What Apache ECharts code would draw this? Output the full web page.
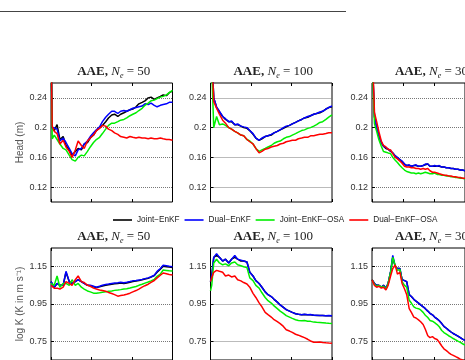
<!DOCTYPE html>
<html>
<head>
<meta charset="utf-8">
<title>AAE</title>
<script src="https://cdn.jsdelivr.net/npm/echarts@6.0.0/dist/echarts.min.js"></script>
<style>
  html, body { margin: 0; padding: 0; background: #fff; overflow: hidden; }
  #chart { width: 465px; height: 360px; }
</style>
</head>
<body>
<div id="chart"></div>
<script>
// assimilation steps, same x for every panel
var steps = [0, 3, 8, 15, 22, 30, 37,
  45, 52, 60, 67, 75, 82, 90,
  97, 105, 112, 120, 127, 135, 142,
  150, 157, 165, 172, 180, 187, 195,
  202, 210, 217, 225, 232, 240, 247,
  255, 262, 270, 277, 285, 292, 300];

var seriesNames = ['Joint\u2212EnKF', 'Dual\u2212EnKF', 'Joint\u2212EnKF\u2212OSA', 'Dual\u2212EnKF\u2212OSA'];
var ensembleSizes = [50, 100, 300];
var headTicks = [0.12, 0.16, 0.2, 0.24];
var logKTicks = [0.75, 0.95, 1.15];

// ---- Head (m), Ne = 50
var headJoint50 = [0.32, 0.200, 0.196, 0.204, 0.184, 0.188, 0.176,
  0.170, 0.163, 0.168, 0.172, 0.170, 0.178, 0.180,
  0.186, 0.190, 0.196, 0.200, 0.203, 0.208, 0.213,
  0.217, 0.218, 0.215, 0.218, 0.220, 0.222, 0.224,
  0.225, 0.228, 0.232, 0.234, 0.236, 0.240, 0.241,
  0.238, 0.240, 0.242, 0.244, 0.243, 0.247, 0.249];
var headDual50 = [0.32, 0.198, 0.200, 0.198, 0.182, 0.186, 0.180,
  0.172, 0.165, 0.162, 0.170, 0.172, 0.178, 0.182,
  0.188, 0.193, 0.197, 0.201, 0.208, 0.214, 0.218,
  0.222, 0.222, 0.219, 0.222, 0.223, 0.222, 0.224,
  0.226, 0.227, 0.228, 0.229, 0.232, 0.231, 0.233,
  0.230, 0.228, 0.230, 0.231, 0.232, 0.234, 0.234];
var headJointOsa50 = [0.32, 0.185, 0.190, 0.184, 0.178, 0.172, 0.170,
  0.163, 0.157, 0.155, 0.160, 0.163, 0.162, 0.168,
  0.174, 0.180, 0.184, 0.187, 0.192, 0.198, 0.203,
  0.206, 0.206, 0.208, 0.210, 0.211, 0.213, 0.216,
  0.218, 0.220, 0.223, 0.226, 0.230, 0.233, 0.236,
  0.237, 0.239, 0.241, 0.242, 0.244, 0.247, 0.250];
var headDualOsa50 = [0.32, 0.202, 0.195, 0.192, 0.178, 0.183, 0.174,
  0.168, 0.160, 0.170, 0.182, 0.176, 0.172, 0.182,
  0.186, 0.190, 0.196, 0.199, 0.203, 0.202, 0.198,
  0.196, 0.193, 0.191, 0.188, 0.187, 0.186, 0.188,
  0.187, 0.186, 0.187, 0.186, 0.186, 0.185, 0.186,
  0.185, 0.185, 0.186, 0.185, 0.184, 0.184, 0.183];

// ---- Head (m), Ne = 100
var headJoint100 = [0.32, 0.30, 0.240, 0.227, 0.221, 0.215, 0.211,
  0.208, 0.208, 0.204, 0.204, 0.202, 0.200, 0.199,
  0.196, 0.191, 0.186, 0.183, 0.185, 0.188, 0.189,
  0.190, 0.193, 0.195, 0.197, 0.199, 0.201, 0.203,
  0.205, 0.207, 0.209, 0.211, 0.213, 0.214, 0.216,
  0.218, 0.219, 0.220, 0.222, 0.225, 0.227, 0.228];
var headDual100 = [0.32, 0.30, 0.240, 0.228, 0.222, 0.215, 0.212,
  0.208, 0.209, 0.204, 0.205, 0.202, 0.201, 0.200,
  0.196, 0.192, 0.186, 0.183, 0.186, 0.188, 0.189,
  0.191, 0.193, 0.195, 0.197, 0.200, 0.202, 0.203,
  0.205, 0.207, 0.209, 0.211, 0.213, 0.215, 0.216,
  0.218, 0.219, 0.221, 0.222, 0.225, 0.227, 0.229];
var headJointOsa100 = [0.32, 0.28, 0.200, 0.215, 0.204, 0.205, 0.203,
  0.200, 0.198, 0.195, 0.193, 0.190, 0.189, 0.184,
  0.182, 0.178, 0.172, 0.168, 0.170, 0.172, 0.174,
  0.176, 0.179, 0.181, 0.182, 0.185, 0.187, 0.188,
  0.190, 0.192, 0.194, 0.196, 0.197, 0.199, 0.200,
  0.202, 0.204, 0.207, 0.208, 0.211, 0.214, 0.217];
var headDualOsa100 = [0.32, 0.30, 0.235, 0.226, 0.218, 0.210, 0.206,
  0.200, 0.198, 0.195, 0.193, 0.190, 0.189, 0.184,
  0.181, 0.178, 0.172, 0.166, 0.168, 0.171, 0.172,
  0.174, 0.175, 0.176, 0.178, 0.179, 0.181, 0.182,
  0.183, 0.183, 0.185, 0.186, 0.187, 0.187, 0.189,
  0.189, 0.190, 0.191, 0.191, 0.192, 0.193, 0.193];

// ---- Head (m), Ne = 300
var headJoint300 = [0.32, 0.27, 0.214, 0.200, 0.189, 0.180, 0.175,
  0.172, 0.171, 0.168, 0.166, 0.162, 0.159, 0.157,
  0.154, 0.151, 0.149, 0.149, 0.148, 0.149, 0.149,
  0.148, 0.148, 0.149, 0.150, 0.151, 0.148, 0.148,
  0.148, 0.148, 0.148, 0.147, 0.147, 0.146, 0.146,
  0.145, 0.145, 0.144, 0.144, 0.143, 0.143, 0.142];
var headDual300 = [0.32, 0.27, 0.215, 0.200, 0.190, 0.180, 0.175,
  0.173, 0.171, 0.169, 0.166, 0.162, 0.160, 0.157,
  0.155, 0.151, 0.149, 0.150, 0.148, 0.149, 0.150,
  0.148, 0.148, 0.149, 0.151, 0.151, 0.148, 0.148,
  0.149, 0.148, 0.149, 0.147, 0.147, 0.146, 0.146,
  0.145, 0.145, 0.144, 0.144, 0.143, 0.143, 0.142];
var headJointOsa300 = [0.32, 0.26, 0.205, 0.195, 0.184, 0.175, 0.168,
  0.167, 0.166, 0.165, 0.160, 0.156, 0.153, 0.149,
  0.146, 0.143, 0.141, 0.140, 0.139, 0.139, 0.138,
  0.139, 0.138, 0.139, 0.140, 0.139, 0.138, 0.138,
  0.139, 0.137, 0.137, 0.136, 0.136, 0.135, 0.135,
  0.134, 0.134, 0.133, 0.133, 0.132, 0.132, 0.131];
var headDualOsa300 = [0.32, 0.28, 0.220, 0.208, 0.195, 0.182, 0.176,
  0.174, 0.171, 0.170, 0.165, 0.160, 0.158, 0.155,
  0.152, 0.148, 0.147, 0.147, 0.146, 0.146, 0.145,
  0.145, 0.144, 0.145, 0.144, 0.145, 0.142, 0.140,
  0.140, 0.139, 0.138, 0.137, 0.136, 0.136, 0.135,
  0.135, 0.134, 0.134, 0.133, 0.133, 0.132, 0.132];

// ---- log K, Ne = 50
var logKJoint50 = [1.07, 1.075, 1.04, 1.06, 1.05, 1.05, 1.12,
  1.07, 1.06, 1.07, 1.08, 1.07, 1.06, 1.05,
  1.048, 1.042, 1.038, 1.042, 1.046, 1.050, 1.053,
  1.056, 1.058, 1.060, 1.062, 1.060, 1.062, 1.066,
  1.070, 1.073, 1.076, 1.080, 1.084, 1.088, 1.094,
  1.102, 1.120, 1.136, 1.152, 1.150, 1.148, 1.146];
var logKDual50 = [1.07, 1.08, 1.04, 1.06, 1.05, 1.05, 1.125,
  1.07, 1.06, 1.07, 1.08, 1.07, 1.06, 1.05,
  1.05, 1.045, 1.04, 1.045, 1.05, 1.055, 1.057,
  1.06, 1.062, 1.064, 1.066, 1.064, 1.066, 1.070,
  1.074, 1.076, 1.078, 1.082, 1.086, 1.090, 1.096,
  1.104, 1.125, 1.14, 1.158, 1.155, 1.152, 1.150];
var logKJointOsa50 = [1.06, 1.05, 1.05, 1.10, 1.04, 1.06, 1.06,
  1.05, 1.08, 1.05, 1.06, 1.04, 1.03, 1.02,
  1.015, 1.008, 1.007, 1.010, 1.013, 1.015, 1.018,
  1.020, 1.023, 1.025, 1.027, 1.030, 1.032, 1.036,
  1.040, 1.044, 1.050, 1.056, 1.062, 1.068, 1.074,
  1.082, 1.098, 1.110, 1.132, 1.130, 1.128, 1.127];
var logKDualOsa50 = [1.05, 1.04, 1.035, 1.035, 1.03, 1.04, 1.07,
  1.06, 1.05, 1.08, 1.10, 1.07, 1.065, 1.05,
  1.045, 1.035, 1.030, 1.025, 1.022, 1.018, 1.012,
  1.006, 1.000, 0.992, 0.995, 0.998, 1.002, 1.008,
  1.015, 1.022, 1.030, 1.040, 1.048, 1.056, 1.066,
  1.076, 1.090, 1.104, 1.116, 1.112, 1.108, 1.105];

// ---- log K, Ne = 100
var logKJoint100 = [1.07, 1.10, 1.20, 1.21, 1.20, 1.18, 1.19,
  1.17, 1.19, 1.20, 1.19, 1.18, 1.18, 1.175,
  1.12, 1.10, 1.075, 1.06, 1.04, 1.015, 1.00,
  0.99, 0.975, 0.960, 0.945, 0.932, 0.920, 0.912,
  0.905, 0.898, 0.895, 0.893, 0.894, 0.892, 0.893,
  0.890, 0.889, 0.888, 0.888, 0.887, 0.887, 0.887];
var logKDual100 = [1.07, 1.10, 1.20, 1.22, 1.20, 1.18, 1.19,
  1.17, 1.19, 1.21, 1.19, 1.185, 1.18, 1.175,
  1.12, 1.10, 1.075, 1.06, 1.04, 1.015, 1.00,
  0.99, 0.975, 0.960, 0.945, 0.932, 0.920, 0.912,
  0.905, 0.898, 0.895, 0.893, 0.895, 0.892, 0.894,
  0.890, 0.890, 0.888, 0.888, 0.887, 0.888, 0.887];
var logKJointOsa100 = [1.02, 1.05, 1.17, 1.19, 1.17, 1.16, 1.165,
  1.155, 1.17, 1.175, 1.16, 1.155, 1.15, 1.145,
  1.09, 1.075, 1.05, 1.035, 1.01, 0.985, 0.968,
  0.955, 0.940, 0.925, 0.912, 0.900, 0.888, 0.880,
  0.873, 0.866, 0.862, 0.860, 0.862, 0.858, 0.857,
  0.853, 0.852, 0.851, 0.850, 0.848, 0.847, 0.846];
var logKDualOsa100 = [1.07, 1.09, 1.12, 1.13, 1.125, 1.12, 1.10,
  1.105, 1.095, 1.10, 1.08, 1.074, 1.065, 1.057,
  1.04, 1.007, 0.985, 0.956, 0.935, 0.905, 0.893,
  0.880, 0.866, 0.855, 0.845, 0.830, 0.812, 0.805,
  0.798, 0.788, 0.783, 0.776, 0.770, 0.761, 0.752,
  0.745, 0.745, 0.746, 0.744, 0.742, 0.741, 0.740];

// ---- log K, Ne = 300
var logKJoint300 = [1.08, 1.075, 1.06, 1.05, 1.05, 1.04, 1.05,
  1.035, 1.06, 1.12, 1.20, 1.15, 1.14, 1.14,
  1.08, 1.075, 1.07, 1.00, 0.99, 0.975, 0.965,
  0.955, 0.945, 0.935, 0.925, 0.912, 0.900, 0.892,
  0.880, 0.870, 0.860, 0.845, 0.830, 0.820, 0.810,
  0.800, 0.792, 0.785, 0.778, 0.770, 0.762, 0.755];
var logKDual300 = [1.08, 1.075, 1.06, 1.05, 1.05, 1.04, 1.05,
  1.035, 1.06, 1.125, 1.21, 1.15, 1.14, 1.14,
  1.08, 1.075, 1.07, 1.00, 0.99, 0.975, 0.965,
  0.955, 0.945, 0.935, 0.925, 0.912, 0.900, 0.892,
  0.880, 0.870, 0.860, 0.845, 0.830, 0.820, 0.810,
  0.800, 0.792, 0.785, 0.778, 0.770, 0.762, 0.755];
var logKJointOsa300 = [1.08, 1.07, 1.055, 1.045, 1.05, 1.04, 1.045,
  1.03, 1.06, 1.12, 1.20, 1.155, 1.13, 1.135,
  1.07, 1.05, 1.04, 0.970, 0.955, 0.935, 0.928,
  0.925, 0.918, 0.905, 0.890, 0.878, 0.862, 0.858,
  0.850, 0.840, 0.828, 0.808, 0.797, 0.788, 0.780,
  0.772, 0.765, 0.758, 0.751, 0.744, 0.737, 0.730];
var logKDualOsa300 = [1.08, 1.07, 1.05, 1.04, 1.045, 1.035, 1.04,
  1.025, 1.05, 1.10, 1.14, 1.16, 1.11, 1.12,
  1.06, 1.03, 1.00, 0.925, 0.905, 0.880, 0.875,
  0.865, 0.855, 0.840, 0.815, 0.780, 0.770, 0.775,
  0.765, 0.760, 0.745, 0.725, 0.710, 0.700, 0.690,
  0.680, 0.675, 0.668, 0.662, 0.655, 0.650, 0.645];

// panels, row by row
var panels = [
  [headJoint50, headDual50, headJointOsa50, headDualOsa50],
  [headJoint100, headDual100, headJointOsa100, headDualOsa100],
  [headJoint300, headDual300, headJointOsa300, headDualOsa300],
  [logKJoint50, logKDual50, logKJointOsa50, logKDualOsa50],
  [logKJoint100, logKDual100, logKJointOsa100, logKDualOsa100],
  [logKJoint300, logKDual300, logKJointOsa300, logKDualOsa300]
];

// layout / style
var lineColors = ['#000000', '#0000ff', '#00ee00', '#ff0000'];
var gridLefts = [51, 210.5, 372];
var gridTops = [83, 248];
var gridW = 121.5;
var gridH = 119;
var serif = '"Liberation Serif", "DejaVu Serif", serif';
var sans = '"Liberation Sans", Arial, sans-serif';

var chart = echarts.init(document.getElementById('chart'));

var grids = [];
var xAxes = [];
var yAxes = [];
var series = [];
var graphics = [
  // rule at the top of the page
  { type: 'line', shape: { x1: 0, y1: 11.5, x2: 346, y2: 11.5 }, style: { stroke: '#444', lineWidth: 1.2 } }
];

function xAxisCfg (k, pos) {
  return {
    gridIndex: k,
    type: 'value',
    position: pos,
    min: 0,
    max: 300,
    interval: 100,
    axisLine: { show: false },
    axisTick: { show: true, inside: true, length: 3, lineStyle: { color: '#000' } },
    axisLabel: { show: false },
    splitLine: { show: false }
  }
}

panels.forEach(function (lines, k) {
  var row = Math.floor(k / 3);
  var col = k % 3;
  var isHead = row === 0;
  var ticks = isHead ? headTicks : logKTicks;

  grids.push({
    left: gridLefts[col],
    top: gridTops[row],
    width: gridW,
    height: gridH,
    show: true,
    borderColor: '#000',
    borderWidth: 1
  });

  xAxes.push(xAxisCfg(k, 'bottom'));
  xAxes.push(xAxisCfg(k, 'top'));

  yAxes.push({
    gridIndex: k,
    type: 'value',
    min: isHead ? 0.10 : 0.65,
    max: isHead ? 0.26 : 1.25,
    name: col === 0 ? (isHead ? 'Head (m)' : 'log K (K in m s\u207B\u00B9)') : '',
    nameLocation: 'middle',
    nameGap: 24,
    nameTextStyle: { fontFamily: sans, fontSize: 10, color: '#555' },
    axisLine: { show: false },
    axisTick: { show: true, inside: true, length: 3, customValues: ticks, lineStyle: { color: '#000' } },
    axisLabel: { customValues: ticks, fontFamily: sans, fontSize: 9, color: '#333', margin: 4 },
    splitLine: { show: true, lineStyle: { type: 'dotted', color: '#777', width: 1 } }
  });

  lines.forEach(function (vals, s) {
    series.push({
      name: seriesNames[s],
      type: 'line',
      xAxisIndex: 2 * k,
      yAxisIndex: k,
      symbol: 'none',
      clip: true,
      data: steps.map(function (x, i) { return [x, vals[i]] }),
      lineStyle: { color: lineColors[s], width: 1.5 },
      itemStyle: { color: lineColors[s] }
    });
  });

  // panel title: AAE, N_e = ...
  graphics.push({
    type: 'text',
    x: gridLefts[col] + gridW / 2 + 2,
    y: gridTops[row] - 11,
    style: {
      text: '{b|AAE,} {i|N}{s|e}{r| = ' + ensembleSizes[col] + '}',
      align: 'center',
      verticalAlign: 'middle',
      fill: '#222',
      rich: {
        b: { fontFamily: serif, fontWeight: 'bold', fontSize: 13, fill: '#222' },
        i: { fontFamily: serif, fontStyle: 'italic', fontSize: 13, fill: '#222' },
        s: { fontFamily: serif, fontStyle: 'italic', fontSize: 8, fill: '#222', padding: [7, 0, 0, 0] },
        r: { fontFamily: serif, fontSize: 13, fill: '#222' }
      }
    }
  });
});

var option = {
  animation: false,
  backgroundColor: '#fff',
  grid: grids,
  xAxis: xAxes,
  yAxis: yAxes,
  legend: {
    data: seriesNames,
    icon: 'rect',
    left: 108,
    top: 211,
    width: 380,
    itemWidth: 19,
    itemHeight: 1.6,
    itemGap: 5,
    textStyle: { fontFamily: sans, fontSize: 8.2, color: '#222' }
  },
  graphic: graphics,
  series: series
};

chart.setOption(option);
</script>
</body>
</html>
